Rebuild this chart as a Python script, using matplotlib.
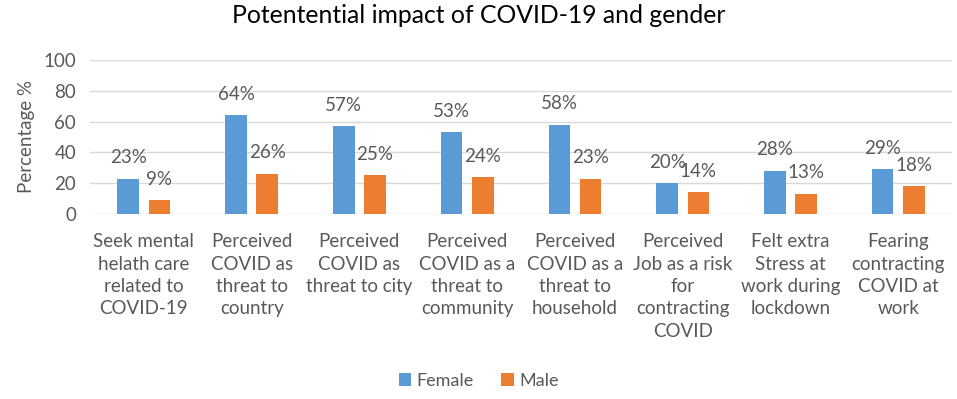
import matplotlib.pyplot as plt
import numpy as np

# Data
categories = [
    "Seek mental\nhelath care\nrelated to\nCOVID-19",
    "Perceived\nCOVID as\nthreat to\ncountry",
    "Perceived\nCOVID as\nthreat to city",
    "Perceived\nCOVID as a\nthreat to\ncommunity",
    "Perceived\nCOVID as a\nthreat to\nhousehold",
    "Perceived\nJob as a risk\nfor\ncontracting\nCOVID",
    "Felt extra\nStress at\nwork during\nlockdown",
    "Fearing\ncontracting\nCOVID at\nwork",
]
female = [23, 64, 57, 53, 58, 20, 28, 29]
male = [9, 26, 25, 24, 23, 14, 13, 18]

plt.rcParams['font.family'] = ['Lato', 'DejaVu Sans']
text_col = '#595959'

fig = plt.figure(figsize=(9.57, 3.99), dpi=100)
ax = fig.add_axes([0.094, 0.4637, 0.901, 0.386])

x = np.arange(len(categories))
w = 0.2
off = 0.145
b1 = ax.bar(x - off, female, w, color='#5B9BD5', label='Female')
b2 = ax.bar(x + off, male, w, color='#ED7D31', label='Male')

for bars, vals in [(b1, female), (b2, male)]:
    for b, v in zip(bars, vals):
        ax.annotate(f"{v}%", (b.get_x() + b.get_width() / 2, v),
                    xytext=(0, 9), textcoords='offset points',
                    ha='center', va='bottom', fontsize=13.5, color=text_col)

ax.set_ylim(0, 100)
ax.set_xlim(-0.5, len(categories) - 0.5)
ax.set_yticks(range(0, 101, 20))
ax.yaxis.grid(True, color='#d9d9d9', linewidth=1)
ax.set_axisbelow(True)
for s in ax.spines.values():
    s.set_visible(False)
ax.tick_params(axis='both', length=0, labelsize=13.5, colors=text_col)
ax.tick_params(axis='y', pad=10)
ax.set_xticks(x)
ax.set_xticklabels(categories, linespacing=1.38, va='top')
ax.tick_params(axis='x', pad=14)

ax.set_ylabel('Percentage %', fontsize=13.5, color=text_col, labelpad=6)
fig.suptitle('Potentential impact of COVID-19 and gender', fontsize=17.8, color='black', y=0.99)

fig.legend(handles=[b1, b2], loc='lower center', ncol=2, frameon=False,
           fontsize=13, labelcolor=text_col, bbox_to_anchor=(0.5, -0.015),
           handlelength=0.7, handleheight=0.7, columnspacing=1.5, handletextpad=0.3)

fig.savefig('out.png', dpi=100)
